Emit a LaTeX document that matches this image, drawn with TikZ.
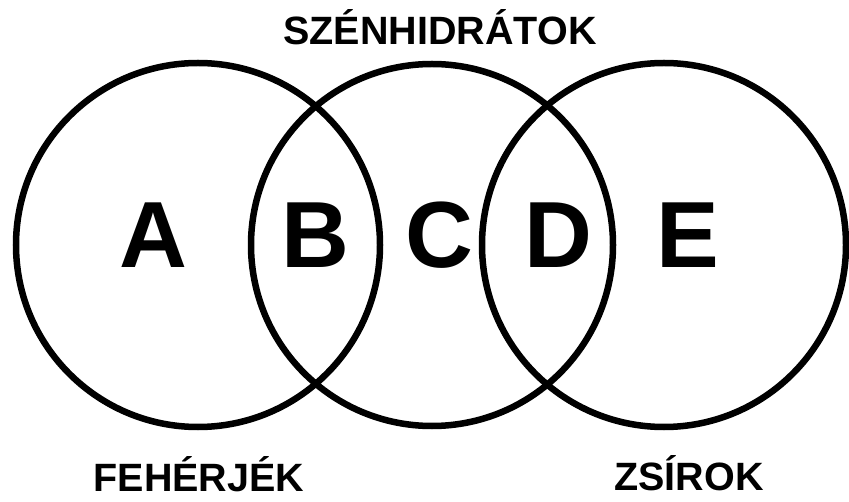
\documentclass[tikz,border=0pt]{standalone}
\usepackage{fontspec}
\setmainfont{Liberation Sans}
\begin{document}
\begin{tikzpicture}[x=1pt,y=1pt,
  ring/.style={circle,draw=black,line width=6.5pt,inner sep=0pt,minimum size=#1},
  big/.style={font=\fontsize{94}{94}\selectfont\bfseries,anchor=base,inner sep=0pt},
  lab/.style={font=\fontsize{39.5}{40}\selectfont\bfseries,anchor=base,inner sep=0pt}]
\useasboundingbox[fill=white] (0,0) rectangle (849,501);
\node[ring=364pt] (c1) at (198,256) {};
\node[ring=362pt] (c2) at (432,256) {};
\node[ring=364pt] (c3) at (664,256) {};
\node[big] (a) at (153,233) {A};
\node[big] (b) at (315,233) {B};
\node[big] (c) at (439,233) {C};
\node[big] (d) at (558,233) {D};
\node[big] (e) at (688,233) {E};
\node[lab] (t1) at (440,456) {SZÉNHIDRÁTOK};
\node[lab] (t2) at (199,10) {FEHÉRJÉK};
\node[lab] (t3) at (689,11) {ZSÍROK};
\end{tikzpicture}
\end{document}
